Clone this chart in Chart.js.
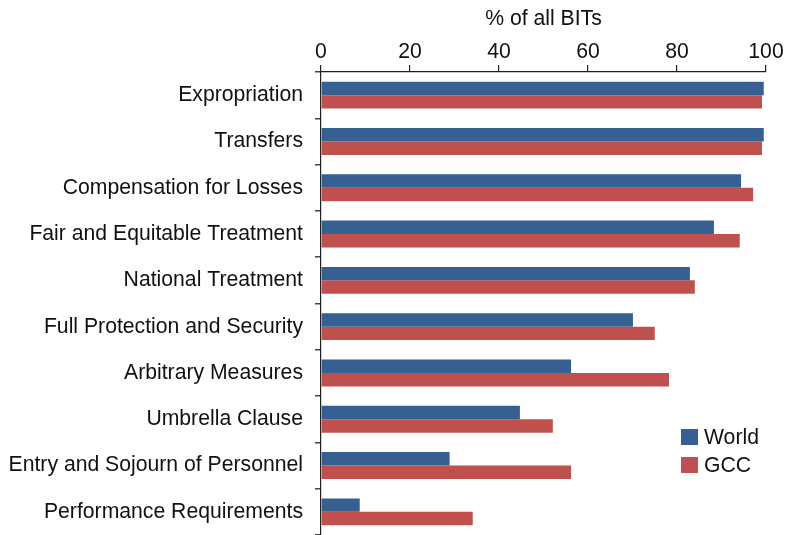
<!DOCTYPE html>
<html>
<head>
<meta charset="utf-8">
<script src="https://cdn.jsdelivr.net/npm/chart.js@4"></script>
<style>
  html, body { margin: 0; padding: 0; background: #fff; }
  #wrap { width: 787px; height: 535px; }
</style>
</head>
<body>
<div id="wrap"><canvas id="bitChart"></canvas></div>
<script>
// provisions in BITs
const categories = [
  "Expropriation",
  "Transfers",
  "Compensation for Losses",
  "Fair and Equitable Treatment",
  "National Treatment",
  "Full Protection and Security",
  "Arbitrary Measures",
  "Umbrella Clause",
  "Entry and Sojourn of Personnel",
  "Performance Requirements",
];
const worldValues = [99.5, 99.5, 94.4, 88.3, 82.9, 70.1, 56.2, 44.7, 28.9, 8.7];
const gccValues = [99.1, 99.1, 97.1, 94.1, 84.0, 75.0, 78.2, 52.1, 56.2, 34.1];
const xTicks = [0, 20, 40, 60, 80, 100];

const FONT = "'Liberation Sans', Arial, Helvetica, sans-serif";
const FSIZE = 21.2;

// legend drawn inside the plot area, bottom right
const insideLegend = {
  id: "insideLegend",
  afterDraw(chart) {
    const ctx = chart.ctx;
    const x = 681, y0 = 429;
    ctx.save();
    ctx.font = FSIZE + "px " + FONT;
    ctx.textBaseline = "middle";
    chart.data.datasets.forEach((ds, i) => {
      const y = y0 + i * 28;
      ctx.fillStyle = ds.backgroundColor;
      ctx.fillRect(x, y, 17, 16);
      ctx.fillStyle = "#111";
      ctx.fillText(ds.label, x + 23, y + 9);
    });
    ctx.restore();
  },
};

const data = {
  labels: categories,
  datasets: [
    {
      label: "World",
      data: worldValues,
      backgroundColor: "#376092", // blue
    },
    {
      label: "GCC",
      data: gccValues,
      backgroundColor: "#C0504D", // red
    },
  ],
};

const config = {
  type: "bar",
  data: data,
  options: {
    indexAxis: "y",
    responsive: true,
    maintainAspectRatio: false,
    animation: false,
    layout: { padding: { left: 0, right: 21, top: 0, bottom: 0 } },
    datasets: {
      bar: { categoryPercentage: 0.58, barPercentage: 1.0 },
    },
    plugins: {
      legend: { display: false },
      tooltip: { enabled: false },
    },
    scales: {
      x: {
        position: "top",
        min: 0,
        max: 100,
        afterBuildTicks(scale) {
          scale.ticks = xTicks.map((v) => ({ value: v }));
        },
        afterFit(scale) {
          scale.height = 72;
        },
        title: {
          display: true,
          text: "% of all BITs",
          color: "#111",
          font: { family: FONT, size: FSIZE },
          padding: { top: 6, bottom: 0 },
        },
        ticks: {
          color: "#111",
          font: { family: FONT, size: FSIZE },
          padding: 0,
          maxRotation: 0,
        },
        grid: {
          drawOnChartArea: false,
          drawTicks: true,
          tickLength: 7,
          color: "#222",
          lineWidth: 1.2,
        },
        border: { display: true, color: "#222", width: 1.2 },
      },
      y: {
        afterFit(scale) {
          scale.width = 321;
          scale.paddingTop = 0;
          scale.paddingBottom = 0;
        },
        ticks: {
          color: "#111",
          font: { family: FONT, size: FSIZE },
          padding: 12,
        },
        grid: {
          drawOnChartArea: false,
          drawTicks: true,
          tickLength: 6,
          offset: true,
          color: "#444",
          lineWidth: 1.5,
        },
        border: { display: true, color: "#222", width: 1.2 },
      },
    },
  },
  plugins: [insideLegend],
};

const ctx = document.getElementById("bitChart").getContext("2d");
new Chart(ctx, config);
</script>
</body>
</html>
